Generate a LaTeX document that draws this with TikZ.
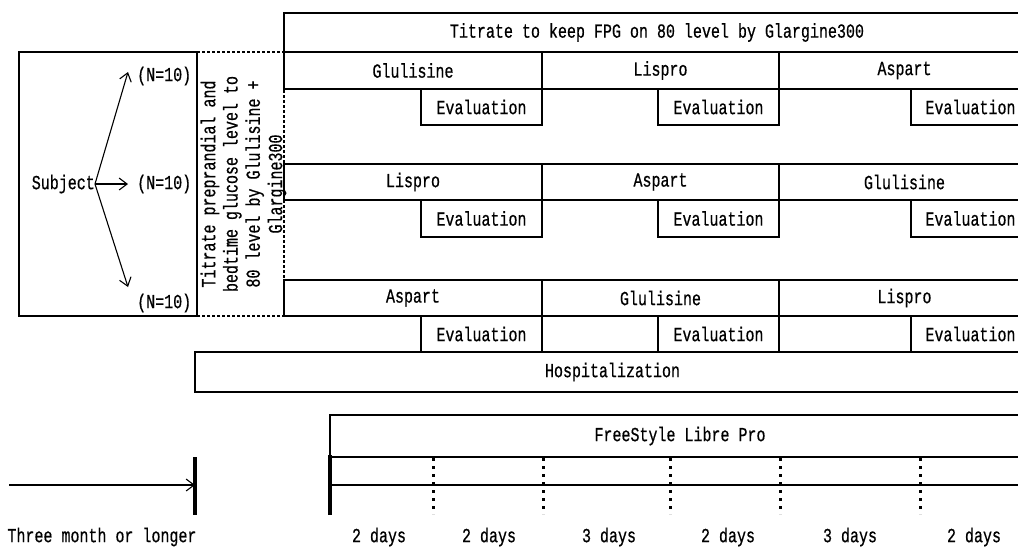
\documentclass[tikz,border=0pt]{standalone}
\usepackage{fontspec}
\newfontfamily\gfont{Liberation Mono}[FakeStretch=0.75,FakeBold=0.6]
\usetikzlibrary{arrows.meta}
\begin{document}
\begin{tikzpicture}[x=1pt,y=-1pt,
  txt/.style={inner sep=0pt, font=\gfont\fontsize{20}{22.3}\selectfont},
  cellbox/.style={txt, draw, line width=2.6pt, anchor=center},
  frame/.style={draw, line width=2.6pt},
  dotline/.style={line width=2.6pt, dash pattern=on 2.6pt off 2.4pt},
  tickdot/.style={line width=3pt, dash pattern=on 3pt off 5pt},
  thinline/.style={line width=1.1pt},
  thickbar/.style={line width=3.6pt},
  arr/.style={line width=1.1pt, -{Straight Barb[length=8pt,width=12pt,line width=1.1pt]}}]
\useasboundingbox (0,0) rectangle (1018,547);
\clip (0,0) rectangle (1018,547);
% dotted titration box
\draw[dotline] (197,52) -- (284,52) -- (284,316) -- (197,316);
% subject box
\node[frame, minimum width=178, minimum height=264, inner sep=0pt] (subjbox) at (108,184) {};
\node[txt, anchor=east] (subj) at (95,184) {Subject};
\node[txt, anchor=west] (n1) at (137,76) {(N=10)};
\node[txt, anchor=west] (n2) at (137,184) {(N=10)};
\node[txt, anchor=west] (n3) at (137,303) {(N=10)};
\coordinate (t1) at (128,72);
\coordinate (t2) at (128,184);
\coordinate (t3) at (128,287);
\draw[arr] (subj.east) -- (t1);
\draw[arr] (subj.east) -- (t2);
\draw[arr] (subj.east) -- (t3);
\node[txt, rotate=90, align=center] (vt) at (243.5,184) {Titrate preprandial and\\bedtime glucose level to\\80 level by Glulisine +\\Glargine300};
% top box
\node[cellbox, minimum width=746, minimum height=39] (top) at (657,32.5) {Titrate to keep FPG on 80 level by Glargine300};
% row 1
\node[cellbox, minimum width=258, minimum height=37] (r1a) at (413,70.5) {Glulisine};
\node[cellbox, minimum width=237, minimum height=37] (r1b) at (660.5,70.5) {Lispro};
\node[cellbox, minimum width=251, minimum height=37] (r1c) at (904.5,70.5) {Aspart};
\node[cellbox, minimum width=121, minimum height=36] (e1a) at (481.5,107) {Evaluation};
\node[cellbox, minimum width=121, minimum height=36] (e1b) at (718.5,107) {Evaluation};
\node[cellbox, minimum width=119, minimum height=36] (e1c) at (970.5,107) {Evaluation};
% row 2
\node[cellbox, minimum width=258, minimum height=36] (r2a) at (413,182) {Lispro};
\node[cellbox, minimum width=237, minimum height=36] (r2b) at (660.5,182) {Aspart};
\node[cellbox, minimum width=251, minimum height=36] (r2c) at (904.5,182) {Glulisine};
\node[cellbox, minimum width=121, minimum height=37] (e2a) at (481.5,218.5) {Evaluation};
\node[cellbox, minimum width=121, minimum height=37] (e2b) at (718.5,218.5) {Evaluation};
\node[cellbox, minimum width=119, minimum height=37] (e2c) at (970.5,218.5) {Evaluation};
% row 3
\node[cellbox, minimum width=258, minimum height=36] (r3a) at (413,298) {Aspart};
\node[cellbox, minimum width=237, minimum height=36] (r3b) at (660.5,298) {Glulisine};
\node[cellbox, minimum width=251, minimum height=36] (r3c) at (904.5,298) {Lispro};
\node[cellbox, minimum width=121, minimum height=36] (e3a) at (481.5,334) {Evaluation};
\node[cellbox, minimum width=121, minimum height=36] (e3b) at (718.5,334) {Evaluation};
\node[cellbox, minimum width=119, minimum height=36] (e3c) at (970.5,334) {Evaluation};
% hospitalization
\node[cellbox, minimum width=835, minimum height=40] (hosp) at (612.5,372) {Hospitalization};
% FreeStyle
\node[cellbox, minimum width=700, minimum height=42] (fsl) at (680,436) {FreeStyle Libre Pro};
% timeline
\coordinate (b0t) at (195,457);
\coordinate (b0b) at (195,515);
\coordinate (a0) at (9,485);
\coordinate (a1) at (195,485);
\draw[thickbar] (b0t) -- (b0b);
\draw[arr] (a0) -- (a1);
\coordinate (b1t) at (330,455);
\coordinate (b1b) at (330,515);
\coordinate (tl0) at (330,485);
\coordinate (tl1) at (1030,485);
\draw[thickbar] (b1t) -- (b1b);
\draw[thinline] (tl0) -- (tl1);
\foreach \x/\n in {433/d1,543/d2,670/d3,780/d4,920/d5}{
  \coordinate (\n t) at (\x,458);
  \coordinate (\n b) at (\x,514);
  \draw[tickdot] (\n t) -- (\n b);
}
\node[txt] (l0) at (102,537) {Three month or longer};
\node[txt] (l1) at (379,537) {2 days};
\node[txt] (l2) at (489,537) {2 days};
\node[txt] (l3) at (609,537) {3 days};
\node[txt] (l4) at (728,537) {2 days};
\node[txt] (l5) at (850,537) {3 days};
\node[txt] (l6) at (974,537) {2 days};
\end{tikzpicture}
\end{document}
